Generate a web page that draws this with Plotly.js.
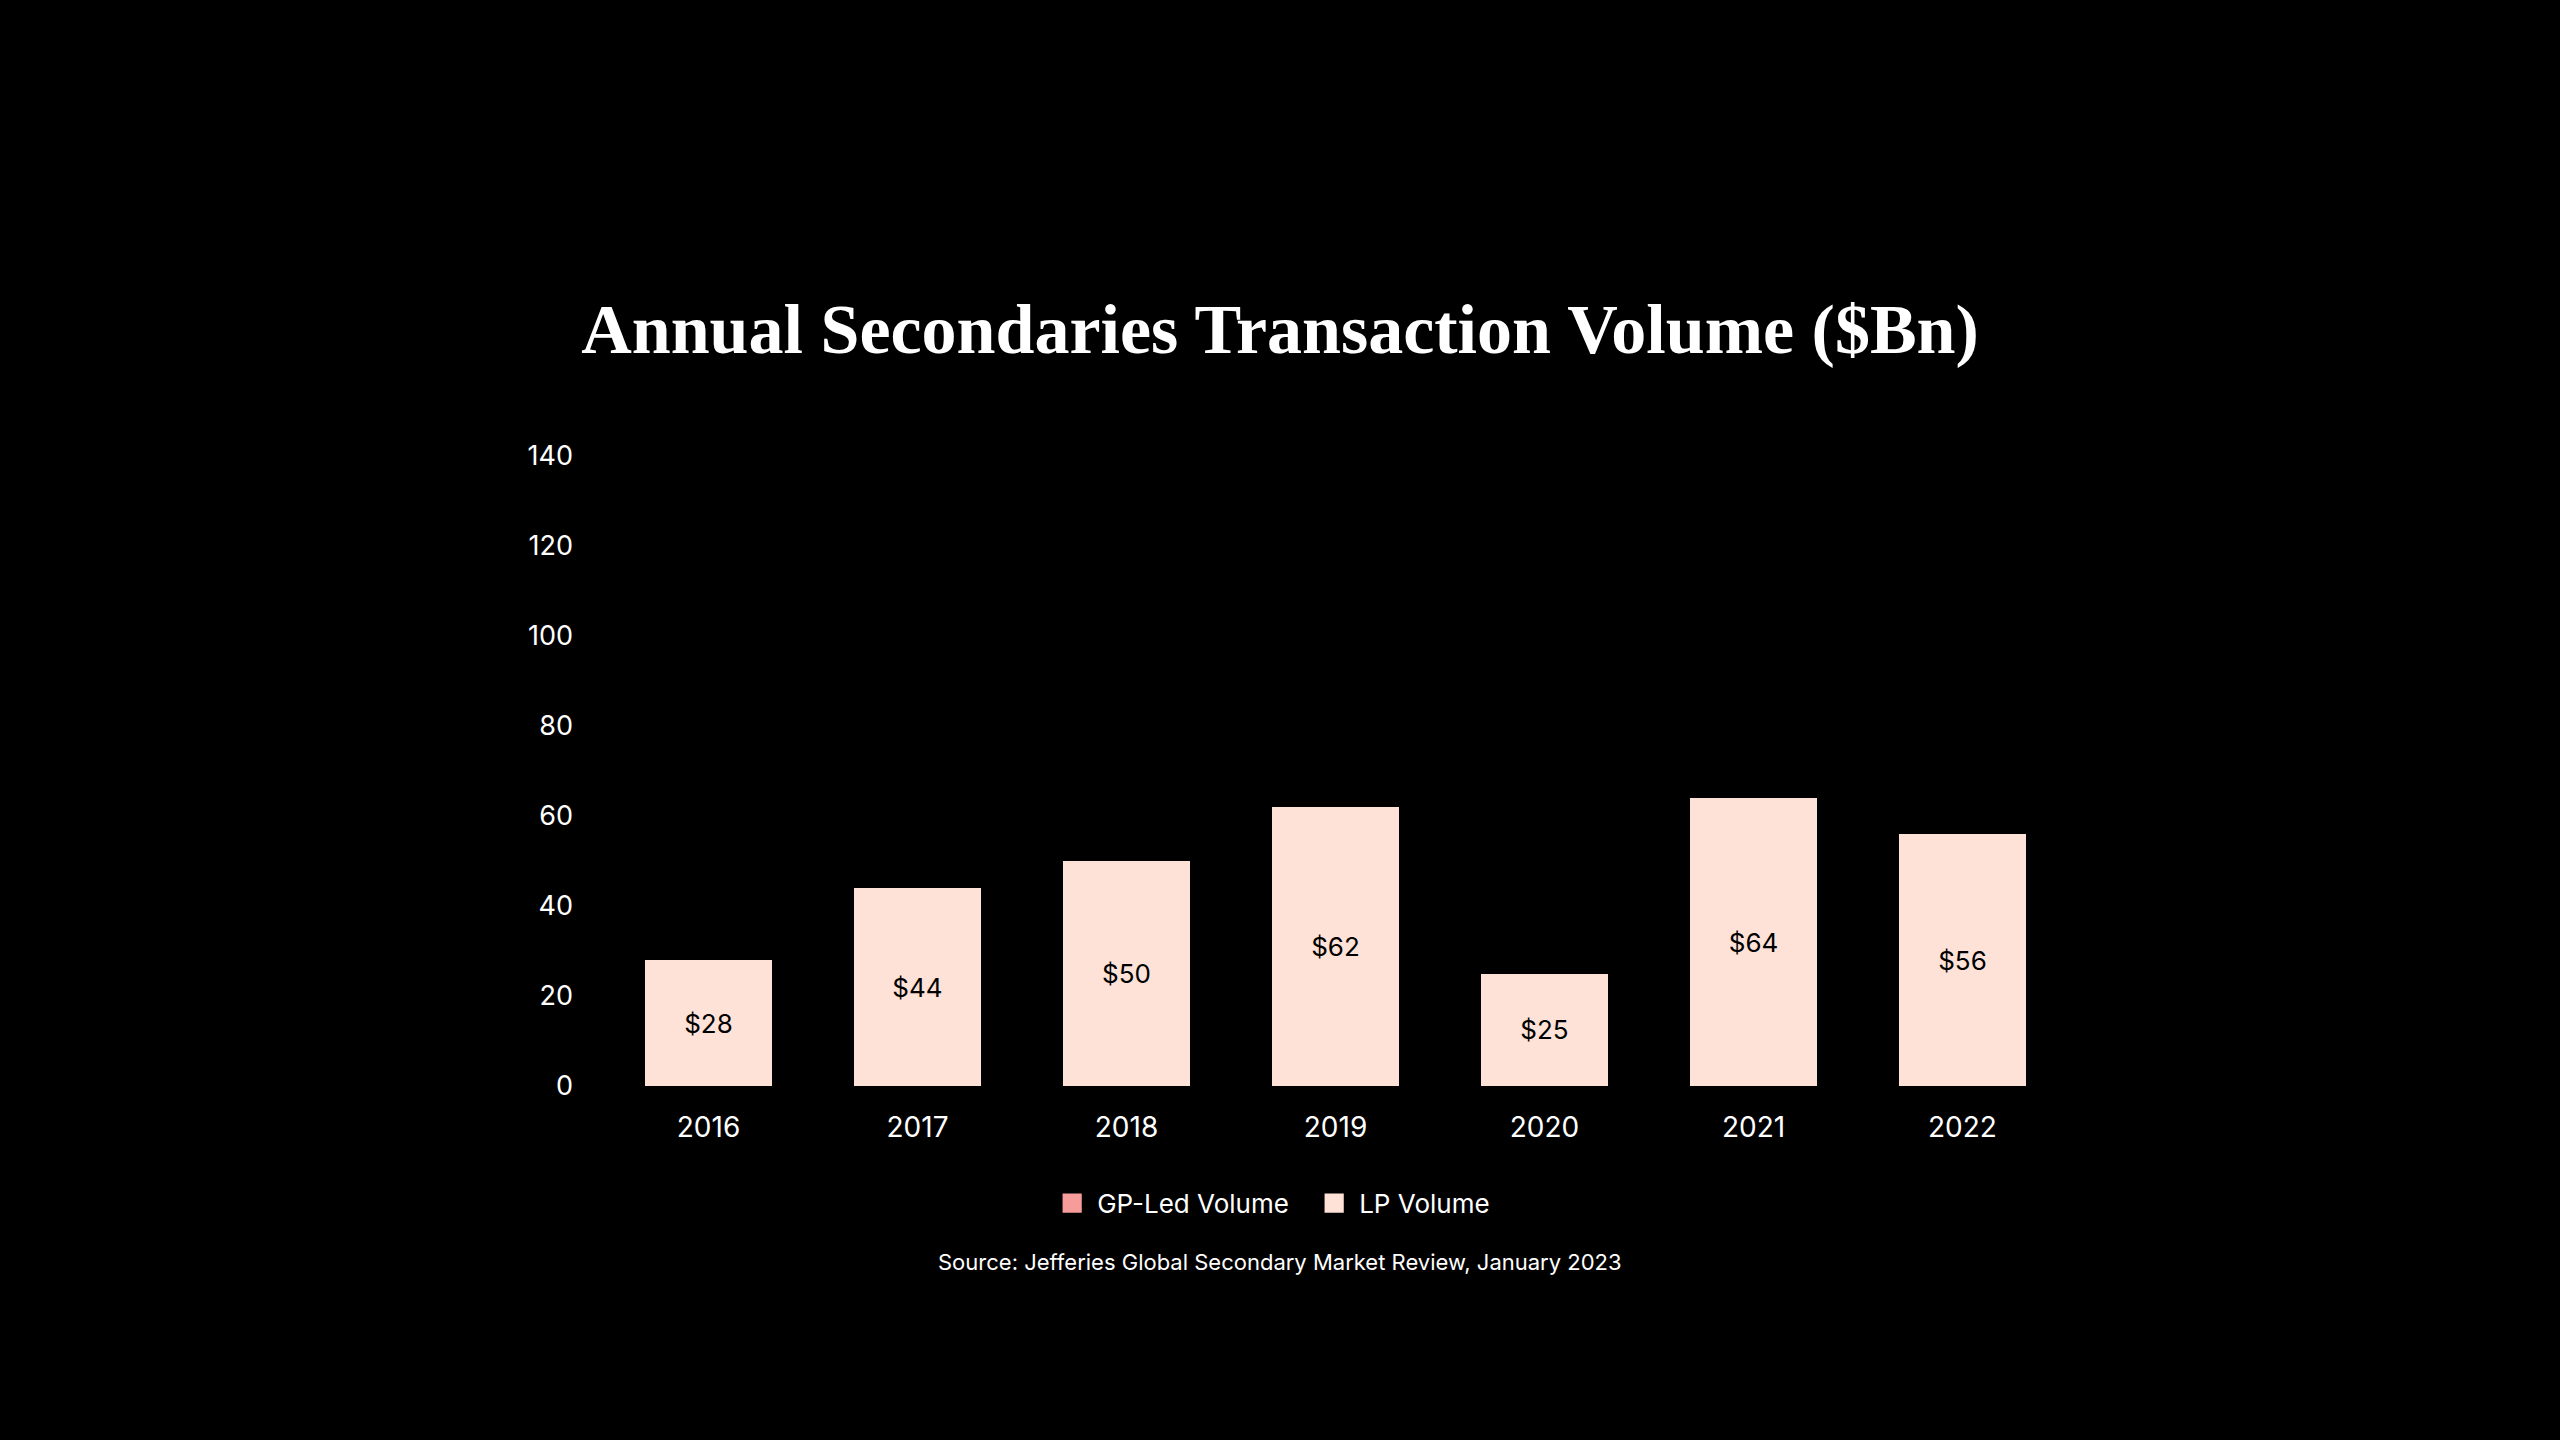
<!DOCTYPE html>
<html>
<head>
<meta charset="utf-8">
<script src="https://cdn.plot.ly/plotly-3.0.1.min.js"></script>
<style>
    html, body { margin: 0; padding: 0; background: #000; }
    #chart { width: 2560px; height: 1440px; }
</style>
</head>
<body>
<div id="chart"></div>
<script>
const years = ['2016', '2017', '2018', '2019', '2020', '2021', '2022'];
const lpVolume = [28, 44, 50, 62, 25, 64, 56];
const gpLedVolume = [0, 0, 0, 0, 0, 0, 0];
const yTicks = [0, 20, 40, 60, 80, 100, 120, 140];

const bodyFont = 'Inter, "Noto Sans", sans-serif';

const data = [
    {
        type: 'bar',
        name: 'GP-Led Volume',
        x: years,
        y: gpLedVolume,
        marker: { color: '#f79b9b' },
        hoverinfo: 'skip'
    },
    {
        type: 'bar',
        name: 'LP Volume',
        x: years,
        y: lpVolume,
        marker: { color: '#fee2d8' },
        texttemplate: '$%{y}',
        textposition: 'inside',
        insidetextanchor: 'middle',
        textangle: 0,
        textfont: { family: bodyFont, size: 26, color: '#000' }
    }
];

const layout = {
    width: 2560,
    height: 1440,
    paper_bgcolor: '#000',
    plot_bgcolor: '#000',
    font: { family: bodyFont, size: 27, color: '#fff' },
    margin: { t: 456, l: 604, r: 493, b: 354, pad: 0, autoexpand: false },
    barmode: 'stack',
    bargap: 0.39,
    title: {
        text: '<b>Annual Secondaries Transaction Volume ($Bn)</b>',
        font: { family: '"Liberation Serif", "DejaVu Serif", serif', size: 70, color: '#fff' },
        x: 0.5,
        xanchor: 'center',
        y: 0.772,
        yanchor: 'middle',
        yref: 'container'
    },
    xaxis: {
        type: 'category',
        showgrid: false,
        zeroline: false,
        showline: false,
        ticks: '',
        tickangle: 0,
        ticklabelstandoff: 22,
        tickfont: { family: bodyFont, size: 28, color: '#fff' }
    },
    yaxis: {
        range: [0, 140],
        tickvals: yTicks,
        showgrid: false,
        zeroline: false,
        showline: false,
        ticks: '',
        ticklabelstandoff: 30,
        tickfont: { family: bodyFont, size: 27, color: '#fff' }
    },
    legend: {
        orientation: 'h',
        x: 0.482,
        xanchor: 'center',
        y: -0.186,
        yanchor: 'middle',
        itemwidth: 40,
        entrywidth: 207,
        font: { family: bodyFont, size: 26, color: '#fff' },
        traceorder: 'normal'
    },
    annotations: [{
        text: 'Source: Jefferies Global Secondary Market Review, January 2023',
        xref: 'paper',
        yref: 'paper',
        x: 0.462,
        y: -0.279,
        xanchor: 'center',
        yanchor: 'middle',
        showarrow: false,
        font: { family: bodyFont, size: 22, color: '#fff' }
    }],
    showlegend: true
};

Plotly.newPlot('chart', data, layout, { displayModeBar: false, staticPlot: true }).then(gd => {
    // enlarge the legend swatches, keeping their original position
    gd.querySelectorAll('.legendpoints path').forEach(p => {
        const t = p.getAttribute('transform') || '';
        p.setAttribute('transform', t + ' scale(1.6)');
    });
});
</script>
</body>
</html>
